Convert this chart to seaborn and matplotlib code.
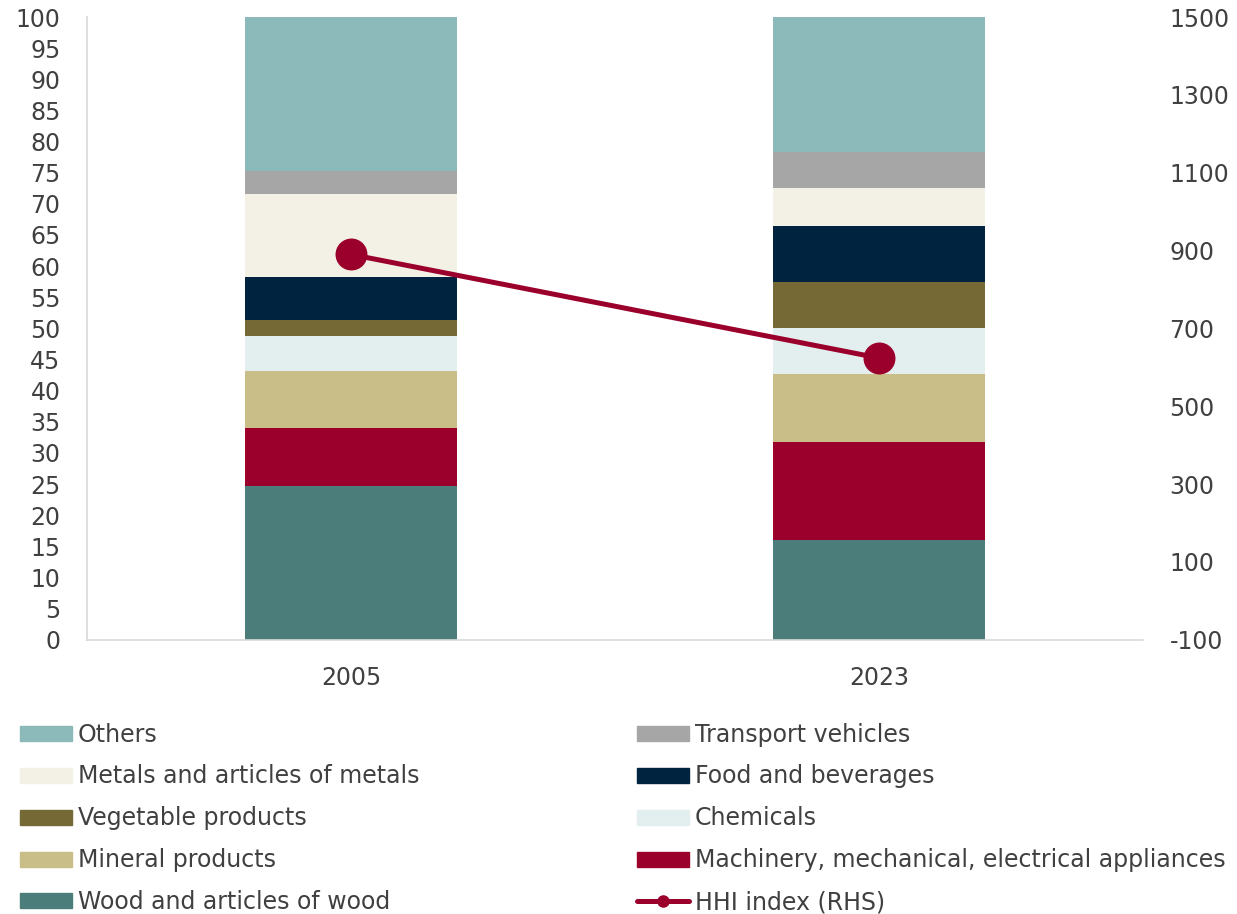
import numpy as np
import pandas as pd
import matplotlib
matplotlib.use("Agg")
import matplotlib.pyplot as plt
import seaborn as sns
from matplotlib.patches import Patch
from matplotlib.lines import Line2D

# --- data ---
years = ["2005", "2023"]
sectors = ["Wood and articles of wood", "Machinery, mechanical, electrical appliances",
           "Mineral products", "Chemicals", "Vegetable products", "Food and beverages",
           "Metals and articles of metals", "Transport vehicles", "Others"]
share_2005 = [24.7, 9.3, 9.2, 5.6, 2.6, 6.9, 13.2, 3.8, 24.7]
share_2023 = [16.0, 15.8, 10.8, 7.4, 7.5, 9.0, 6.1, 5.8, 21.6]
hhi = [890, 624]
left_ticks = list(range(0, 101, 5))
right_ticks = list(range(-100, 1501, 200))

colors = {
    "Wood and articles of wood": "#4B7D7A",
    "Machinery, mechanical, electrical appliances": "#9A002B",
    "Mineral products": "#C9BE88",
    "Chemicals": "#E3EFEF",
    "Vegetable products": "#756935",
    "Food and beverages": "#00233F",
    "Metals and articles of metals": "#F3F1E6",
    "Transport vehicles": "#A6A6A6",
    "Others": "#8CB9B9",
}
hhi_color = "#9A002B"
text_color = "#404040"
fs = 17

sns.set_theme(style="white")
plt.rcParams["font.family"] = ["DejaVu Sans"]
plt.rcParams["axes.unicode_minus"] = False

df = pd.DataFrame({"year": years * len(sectors),
                   "sector": np.repeat(sectors, len(years)),
                   "share": [v for pair in zip(share_2005, share_2023) for v in pair]})
df["top"] = df.groupby("year")["share"].cumsum()

fig = plt.figure(figsize=(12.37, 9.14), dpi=100)
ax = fig.add_axes([0.0703, 0.300, 0.8537, 0.6814])

# stacked bars: draw cumulative tops from the highest down
for s in reversed(sectors):
    sub = df[df["sector"] == s]
    sns.barplot(data=sub, x="year", y="top", order=years, color=colors[s],
                width=0.4, saturation=1, ax=ax, linewidth=0)

ax.set_ylim(0, 100)
ax.set_xlim(-0.5, 1.5)
ax.set_yticks(left_ticks)
ax.set_xlabel("")
ax.set_ylabel("")
for sp in ["top", "right"]:
    ax.spines[sp].set_visible(False)
for sp in ["left", "bottom"]:
    ax.spines[sp].set_color("#D9D9D9")
    ax.spines[sp].set_linewidth(1.2)
ax.tick_params(axis="y", length=0, pad=19, labelsize=fs, labelcolor=text_color)
ax.tick_params(axis="x", length=0, pad=19, labelsize=fs, labelcolor=text_color)

ax2 = ax.twinx()
sns.lineplot(x=[0, 1], y=hhi, ax=ax2, color=hhi_color, linewidth=3.6,
             marker="o", markersize=23, markeredgewidth=0)
ax2.set_ylim(-100, 1500)
ax2.set_yticks(right_ticks)
ax2.set_xlim(-0.5, 1.5)
for sp in ["top", "right", "left", "bottom"]:
    ax2.spines[sp].set_visible(False)
ax2.tick_params(axis="y", length=0, pad=19, labelsize=fs, labelcolor=text_color)

# --- legend: two columns ---
left_items = ["Others", "Metals and articles of metals", "Vegetable products",
              "Mineral products", "Wood and articles of wood"]
right_items = ["Transport vehicles", "Food and beverages", "Chemicals",
               "Machinery, mechanical, electrical appliances"]
leg_kw = dict(frameon=False, fontsize=fs, handlelength=2.2, handleheight=0.6,
              handletextpad=0.25, labelspacing=0.76, labelcolor=text_color,
              borderaxespad=0, borderpad=0)
h_left = [Patch(color=colors[s], label=s) for s in left_items]
h_right = [Patch(color=colors[s], label=s) for s in right_items]
h_right.append(Line2D([0], [0], color=hhi_color, linewidth=3.6, marker="o",
                      markersize=8, label="HHI index (RHS)"))
fig.legend(handles=h_left, loc="upper left", bbox_to_anchor=(0.0162, 0.2095), **leg_kw)
fig.legend(handles=h_right, loc="upper left", bbox_to_anchor=(0.515, 0.2095), **leg_kw)

fig.savefig("out.png", dpi=100)
